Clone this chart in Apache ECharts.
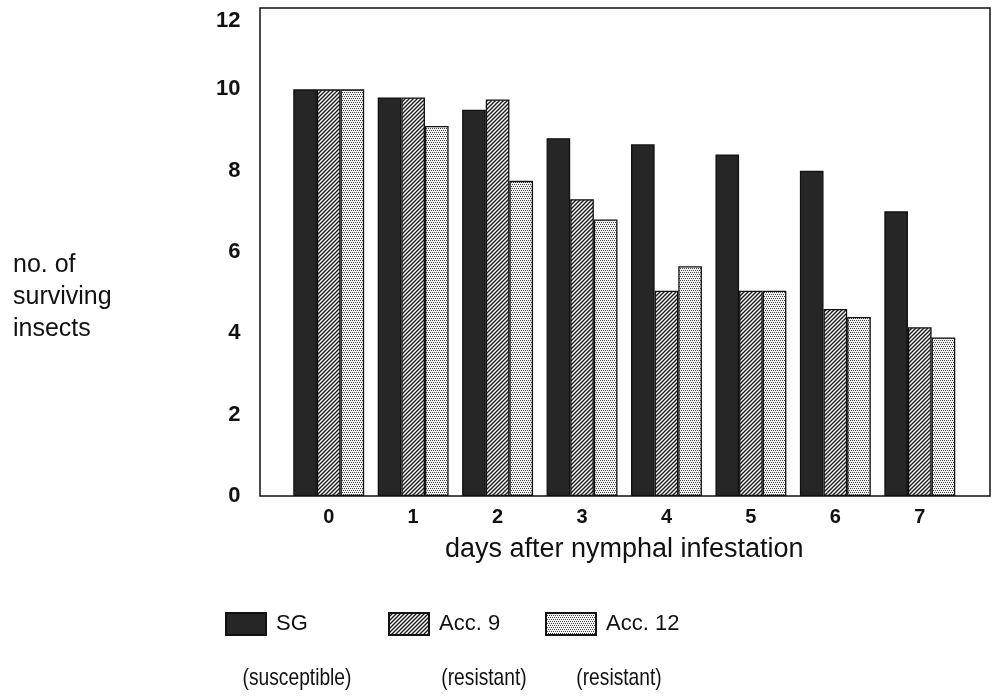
<!DOCTYPE html>
<html>
<head>
<meta charset="utf-8">
<script src="https://cdn.jsdelivr.net/npm/echarts@6/dist/echarts.min.js"></script>
<style>
html,body{margin:0;padding:0;background:#fff;}
#chart{width:994px;height:698px;}
</style>
</head>
<body>
<div id="chart"></div>
<script>
// ---- data ----
const categories = ['0', '1', '2', '3', '4', '5', '6', '7'];
const sgValues    = [10.0, 9.8, 9.5, 8.8, 8.65, 8.4, 8.0, 7.0];
const acc9Values  = [10.0, 9.8, 9.75, 7.3, 5.05, 5.05, 4.6, 4.15];
const acc12Values = [10.0, 9.1, 7.75, 6.8, 5.65, 5.05, 4.4, 3.9];
const seriesNames = ['SG', 'Acc. 9', 'Acc. 12'];
const seriesNotes = ['(susceptible)', '(resistant)', '(resistant)'];
const yTitle = 'no. of\nsurviving\ninsects';
const xTitle = 'days after nymphal infestation';

// ---- fill patterns ----
function hatchPattern() {
  const s = 4;
  const c = document.createElement('canvas');
  c.width = s; c.height = s;
  const g = c.getContext('2d');
  g.fillStyle = '#ffffff'; g.fillRect(0, 0, s, s);
  g.strokeStyle = '#1a1a1a'; g.lineWidth = 1.4;
  g.beginPath();
  g.moveTo(-1, s + 1); g.lineTo(s + 1, -1);
  g.moveTo(-1, 1); g.lineTo(1, -1);
  g.moveTo(s - 1, s + 1); g.lineTo(s + 1, s - 1);
  g.stroke();
  return { image: c, repeat: 'repeat' };
}
function dotPattern() {
  const c = document.createElement('canvas');
  c.width = 4; c.height = 4;
  const g = c.getContext('2d');
  g.fillStyle = '#f2f2f2'; g.fillRect(0, 0, 4, 4);
  g.fillStyle = '#474747';
  g.fillRect(0, 0, 1, 1);
  g.fillRect(2, 0, 1, 1);
  g.fillRect(1, 2, 1, 1);
  g.fillRect(3, 2, 1, 1);
  return { image: c, repeat: 'repeat' };
}

const fills = ['#262626', hatchPattern(), dotPattern()];
const values = [sgValues, acc9Values, acc12Values];
const FONT = "'Liberation Sans', Arial, Helvetica, sans-serif";

const chart = echarts.init(document.getElementById('chart'), null, { renderer: 'canvas' });

const legendLefts = [225, 388, 545];
const legendWidths = [40, 40, 50];
const noteCenters = [297, 484, 619];

const option = {
  backgroundColor: '#ffffff',
  animation: false,
  title: {
    text: yTitle,
    left: 8, top: 244,
    textStyle: { fontFamily: FONT, fontSize: 25, fontWeight: 'normal', color: '#111', lineHeight: 32 }
  },
  grid: [
    { left: 286.5, right: 32, top: 8, bottom: 202, containLabel: false },
    { left: 260, right: 4, top: 8, bottom: 202, show: true, borderColor: '#111', borderWidth: 1.5, backgroundColor: 'transparent' }
  ],
  xAxis: [
    {
      type: 'category', gridIndex: 0, data: categories,
      axisLine: { show: false }, axisTick: { show: false },
      axisLabel: { margin: 11, fontFamily: FONT, fontSize: 20, fontWeight: 'bold', color: '#111' },
      name: xTitle, nameLocation: 'middle', nameGap: 40,
      nameTextStyle: { fontFamily: FONT, fontSize: 27, color: '#111' }
    },
    { type: 'value', gridIndex: 1, show: false, min: 0, max: 1 }
  ],
  yAxis: [
    {
      type: 'value', gridIndex: 0, min: 0, max: 12, interval: 2,
      axisLine: { show: false }, axisTick: { show: false }, splitLine: { show: false },
      axisLabel: {
        margin: 46, fontFamily: FONT, fontSize: 22, fontWeight: 'bold', color: '#111',
        formatter: v => (v === 12 ? '{d|12}' : String(v)),
        rich: { d: { fontFamily: FONT, fontSize: 22, fontWeight: 'bold', color: '#111', padding: [26, 0, 0, 0] } }
      }
    },
    { type: 'value', gridIndex: 1, show: false, min: 0, max: 1 }
  ],
  legend: seriesNames.map((n, i) => ({
    data: [n], left: legendLefts[i], top: 612, padding: 0,
    itemWidth: legendWidths[i], itemHeight: 22, icon: 'rect', selectedMode: false,
    textStyle: { fontFamily: FONT, fontSize: 22, color: '#111', lineHeight: 22, padding: [0, 0, 0, 5] }
  })),
  graphic: seriesNotes.map((t, i) => ({
    type: 'text', x: noteCenters[i], y: 678, scaleX: 0.8,
    style: { text: t, x: 0, y: 0, font: "24px 'Liberation Sans', Arial, sans-serif", fill: '#111', align: 'center', verticalAlign: 'middle' }
  })),
  series: seriesNames.map((n, i) => ({
    name: n, type: 'bar', xAxisIndex: 0, yAxisIndex: 0,
    data: values[i],
    barGap: '0%', barCategoryGap: '16%',
    itemStyle: { color: fills[i], borderColor: '#111', borderWidth: 1.3 }
  }))
};
chart.setOption(option);
</script>
</body>
</html>
